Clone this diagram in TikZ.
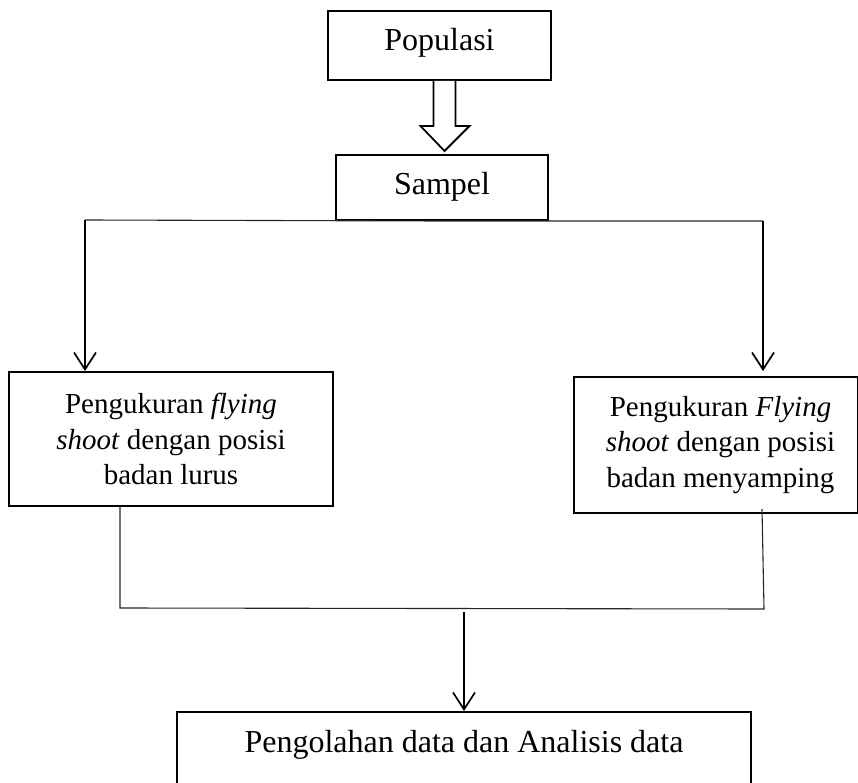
\documentclass[tikz,border=0pt]{standalone}
\usepackage{fontspec}
\setmainfont{Liberation Serif}
\usetikzlibrary{arrows.meta}
\begin{document}
\begin{tikzpicture}[x=1pt,y=-1pt,
  box/.style={draw=black, line width=2pt, inner sep=0pt, anchor=north west, align=center},
  bigtext/.style={font=\fontsize{32}{38}\selectfont},
  sidetext/.style={font=\fontsize{29}{35.5}\selectfont},
  thinline/.style={draw=black!85, line width=1.1pt},
  conn/.style={draw=black, line width=1.7pt, -{Straight Barb[length=17pt,width=22pt]}},
  hollowarrow/.style={draw=black, line width=1.8pt, fill=white, line join=miter}]
\useasboundingbox (0,0) rectangle (858,783);

\node[box, bigtext, minimum width=223pt, minimum height=69pt, text height=40pt, text depth=29pt] (populasi) at (327,10) {Populasi};
\node[box, bigtext, minimum width=212pt, minimum height=65pt, text height=40pt, text depth=25pt] (sampel) at (335,154) {Sampel};
\node[box, sidetext, minimum width=324pt, minimum height=134pt] (lurus) at (8,371)
  {Pengukuran \textit{flying}\\ \textit{shoot} dengan posisi\\ badan lurus};
\node[box, sidetext, minimum width=284pt, minimum height=136pt] (samping) at (573,376)
  {\hspace*{9pt}Pengukuran \textit{Flying}\\ \hspace*{9pt}\textit{shoot} dengan posisi\\ \hspace*{9pt}badan menyamping};
\node[box, bigtext, minimum width=574pt, text height=40pt, text depth=90pt] (analisis) at (176,711)
  {Pengolahan data dan Analisis data};

% hollow arrow Populasi -> Sampel
\draw[hollowarrow] ([xshift=-6pt]populasi.south) -- ++(0,45) -- ++(-13,0) -- ++(24,25)
  -- ++(25,-25) -- ++(-14,0) -- ++(0,-45);

% split from Sampel
\coordinate (splitL) at (85,220);
\coordinate (splitR) at (763,221);
\draw[thinline] (splitL) -- (sampel.south) -- (splitR);
\draw[conn] (splitL) -- (splitL |- lurus.north);
\draw[conn, shorten >=5pt] (splitR) -- (splitR |- samping.north);

% merge to Analisis
\coordinate (mergeL) at (120,608);
\coordinate (mergeR) at (764,609);
\coordinate (mergeM) at (464,612);
\draw[thinline] (lurus.south -| mergeL) -- (mergeL) -- (mergeR) -- ([yshift=5pt]samping.south -| 762,0);
\draw[conn] (mergeM) -- (mergeM |- analisis.north);
\end{tikzpicture}
\end{document}
